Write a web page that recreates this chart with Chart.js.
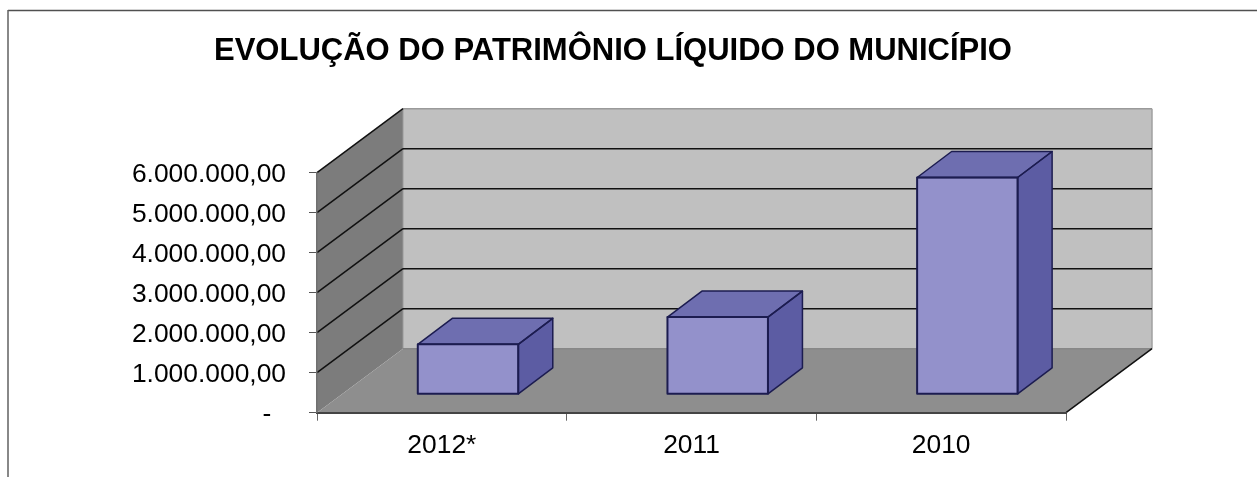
<!DOCTYPE html>
<html>
<head>
<meta charset="utf-8">
<script src="https://cdn.jsdelivr.net/npm/chart.js@4"></script>
<style>
  html, body { margin: 0; padding: 0; background: #fff; }
  canvas { display: block; }
</style>
</head>
<body>
<canvas id="patrimonioChart" width="1257" height="477"></canvas>
<script>
const categories = ['2012*', '2011', '2010'];
const patrimonioValues = [1250000, 1930000, 5420000];
const yTickLabels = ['-  ', '1.000.000,00', '2.000.000,00', '3.000.000,00', '4.000.000,00', '5.000.000,00', '6.000.000,00'];
const chartTitle = 'EVOLUÇÃO DO PATRIMÔNIO LÍQUIDO DO MUNICÍPIO';

const fontFamily = '"Liberation Sans", Arial, sans-serif';

// perspective offsets of the fake 3D box
const wallDepth = { x: 86, y: -64 };
const barShift = { x: 26.2, y: -18.4 };
const barDepth = { x: 34.5, y: -26 };

function polygon(ctx, points, fill, stroke, lineWidth) {
    ctx.beginPath();
    points.forEach((p, i) => i ? ctx.lineTo(p[0], p[1]) : ctx.moveTo(p[0], p[1]));
    ctx.closePath();
    if (fill) {
        ctx.fillStyle = fill;
        ctx.fill();
    }
    if (stroke) {
        ctx.strokeStyle = stroke;
        ctx.lineWidth = lineWidth;
        ctx.stroke();
    }
}

function segment(ctx, x1, y1, x2, y2, color, lineWidth) {
    ctx.beginPath();
    ctx.moveTo(x1, y1);
    ctx.lineTo(x2, y2);
    ctx.strokeStyle = color;
    ctx.lineWidth = lineWidth;
    ctx.stroke();
}

// frame, walls, floor and gridlines, drawn behind the axes
const wallsPlugin = {
    id: 'walls',
    beforeDraw(chart) {
        const { ctx, chartArea, scales } = chart;
        const { left, right } = chartArea;
        const y0 = scales.y.getPixelForValue(0);
        const yMax = scales.y.getPixelForValue(scales.y.max);
        const dx = wallDepth.x;
        const dy = wallDepth.y;

        ctx.save();
        ctx.lineJoin = 'round';

        // only the top and left sides of the outer frame are in the picture
        segment(ctx, 8, 10.5, chart.width, 10.5, '#505050', 1.5);
        segment(ctx, 8, 10, 8, chart.height, '#606060', 1.5);

        polygon(ctx, [[left + dx, yMax + dy], [right + dx, yMax + dy], [right + dx, y0 + dy], [left + dx, y0 + dy]], '#c0c0c0');
        polygon(ctx, [[left, yMax], [left + dx, yMax + dy], [left + dx, y0 + dy], [left, y0]], '#7c7c7c');
        polygon(ctx, [[left, y0], [right, y0], [right + dx, y0 + dy], [left + dx, y0 + dy]], '#8e8e8e');

        segment(ctx, left + dx, yMax + dy, right + dx, yMax + dy, '#9a9a9a', 1.5);
        segment(ctx, right + dx, yMax + dy, right + dx, y0 + dy, '#a0a0a0', 1.5);
        segment(ctx, left + dx, yMax + dy, left + dx, y0 + dy, '#999999', 1);
        segment(ctx, left + dx, y0 + dy, right + dx, y0 + dy, '#7a7a7a', 1);

        scales.y.ticks.forEach(tick => {
            if (tick.value === 0) return;
            const y = scales.y.getPixelForValue(tick.value);
            segment(ctx, left, y, left + dx, y + dy, '#111111', 1.5);
            if (tick.value < scales.y.max) {
                segment(ctx, left + dx, y + dy, right + dx, y + dy, '#111111', 1.5);
            }
        });
        segment(ctx, right, y0, right + dx, y0 + dy, '#111111', 1.5);
        ctx.restore();
    },
    // bars stand a little inside the floor, so everything is shifted back
    beforeDatasetsDraw(chart) {
        const ctx = chart.ctx;
        ctx.save();
        ctx.translate(barShift.x, barShift.y);
        chart.getDatasetMeta(0).data.forEach(bar => {
            const { x, y, base, width } = bar.getProps(['x', 'y', 'base', 'width'], true);
            const l = x - width / 2;
            const r = x + width / 2;
            polygon(ctx, [[l, y], [r, y], [r + barDepth.x, y + barDepth.y], [l + barDepth.x, y + barDepth.y]], '#6e6eb0');
            polygon(ctx, [[r, y], [r + barDepth.x, y + barDepth.y], [r + barDepth.x, base + barDepth.y], [r, base]], '#5c5ca3');
        });
    },
    afterDatasetsDraw(chart) {
        const ctx = chart.ctx;
        const edge = '#1c1c50';
        ctx.lineJoin = 'round';
        chart.getDatasetMeta(0).data.forEach(bar => {
            const { x, y, base, width } = bar.getProps(['x', 'y', 'base', 'width'], true);
            const l = x - width / 2;
            const r = x + width / 2;
            polygon(ctx, [[l, y], [r, y], [r + barDepth.x, y + barDepth.y], [l + barDepth.x, y + barDepth.y]], null, edge, 1.5);
            polygon(ctx, [[r, y], [r + barDepth.x, y + barDepth.y], [r + barDepth.x, base + barDepth.y], [r, base]], null, edge, 1.5);
            polygon(ctx, [[l, y], [r, y], [r, base], [l, base]], null, edge, 2);
        });
        ctx.restore();
    }
};

new Chart(document.getElementById('patrimonioChart').getContext('2d'), {
    type: 'bar',
    plugins: [wallsPlugin],
    data: {
        labels: categories,
        datasets: [{
            data: patrimonioValues,
            backgroundColor: '#9391cb',
            borderWidth: 0,
            barPercentage: 0.4025,
            categoryPercentage: 1,
            clip: false
        }]
    },
    options: {
        responsive: false,
        animation: false,
        // right padding keeps the title centred at x=613, the empty y2 axis reserves the rest
        layout: { padding: { left: 0, right: 31, top: 0, bottom: 0 } },
        plugins: {
            legend: { display: false },
            tooltip: { enabled: false },
            title: {
                display: true,
                text: chartTitle,
                color: '#000000',
                font: { family: fontFamily, size: 31, weight: 'bold', lineHeight: 1.2 },
                padding: { top: 32.4, bottom: 103.1 }
            }
        },
        scales: {
            x: {
                afterFit(scale) { scale.height = 64.3; },
                grid: { drawOnChartArea: false, tickLength: 8, color: '#666666' },
                border: { color: '#444444', width: 2 },
                ticks: {
                    color: '#000000',
                    padding: 9,
                    maxRotation: 0,
                    font: { family: fontFamily, size: 26.4 }
                }
            },
            y: {
                min: 0,
                max: 6000000,
                afterFit(scale) { scale.width = 317; },
                grid: { drawOnChartArea: false, tickLength: 8, color: '#555555' },
                border: { color: '#707070', width: 1.5 },
                ticks: {
                    stepSize: 1000000,
                    color: '#000000',
                    padding: 23,
                    labelOffset: 2,
                    font: { family: fontFamily, size: 26.4 },
                    callback: (value, index) => yTickLabels[index]
                }
            },
            y2: {
                position: 'right',
                afterFit(scale) { scale.width = 160; },
                grid: { display: false },
                border: { display: false },
                ticks: { display: false }
            }
        }
    }
});
</script>
</body>
</html>
